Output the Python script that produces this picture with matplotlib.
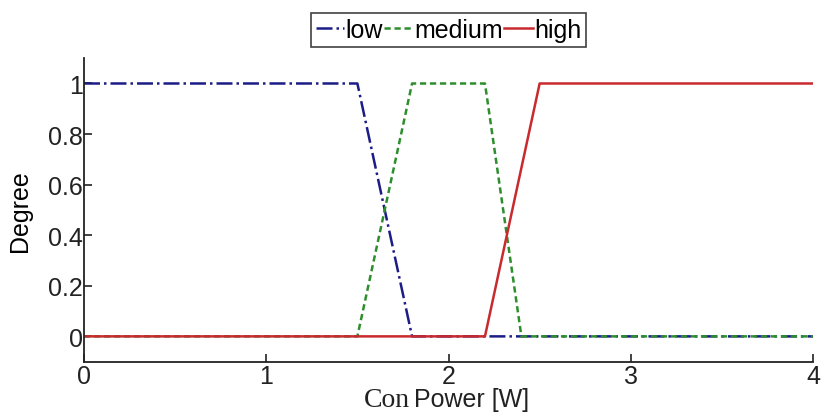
import matplotlib
matplotlib.use("Agg")
import matplotlib.pyplot as plt
import matplotlib.transforms as mtransforms

# Membership functions of the input "Con Power" (breakpoints in W)
x_low = [0, 1.5, 1.8, 4]
y_low = [1, 1, 0, 0]
x_medium = [0, 1.5, 1.8, 2.2, 2.4, 4]
y_medium = [0, 0, 1, 1, 0, 0]
x_high = [0, 2.2, 2.5, 4]
y_high = [0, 0, 1, 1]

x_ticks = [0, 1, 2, 3, 4]
y_ticks = [0, 0.2, 0.4, 0.6, 0.8, 1]
y_tick_labels = ["0", "0.2", "0.4", "0.6", "0.8", "1"]

plt.rcParams['font.family'] = ['Liberation Sans', 'DejaVu Sans']

fig = plt.figure(figsize=(8.21, 4.14), dpi=100)
ax = fig.add_axes([0.1023, 0.124, 0.8880, 0.733])

ax.plot(x_low, y_low, color='#1c1c86', linestyle='-.', lw=1.8, label='low')
ax.plot(x_medium, y_medium, color='#2e8e2e', linestyle=(0, (2.5, 1.5)), lw=1.8, label='medium')
ax.plot(x_high, y_high, color='#c82a2e', linestyle='-', lw=1.8, label='high')

ax.set_xlim(0, 4)
ax.set_ylim(-0.1, 1.1)
ax.set_xticks(x_ticks)
ax.set_xticklabels([str(t) for t in x_ticks])
ax.set_yticks(y_ticks)
ax.set_yticklabels(y_tick_labels)

for s in ['top', 'right']:
    ax.spines[s].set_visible(False)
for s in ['left', 'bottom']:
    ax.spines[s].set_linewidth(1.3)
    ax.spines[s].set_color('#222222')

ax.tick_params(direction='in', length=6, width=1.2, labelsize=18, colors='#222222')
ax.tick_params(axis='x', pad=2)
ax.tick_params(axis='y', pad=1)

ax.set_ylabel('Degree', fontsize=18)
ax.yaxis.set_label_coords(-0.071, 0.5)

# x-axis title: "Con" set in a serif face, "Power [W]" in sans
trans = mtransforms.blended_transform_factory(ax.transData, ax.transAxes)
ax.text(1.79, -0.145, 'Con', transform=trans, ha='right', va='baseline',
        fontsize=20, family=['Liberation Serif', 'DejaVu Serif'], color='#222222')
ax.text(1.81, -0.145, 'Power [W]', transform=trans, ha='left', va='baseline',
        fontsize=18, color='#222222')

leg = ax.legend(loc='lower center', bbox_to_anchor=(0.5, 1.0), ncol=3, frameon=True,
                fancybox=False, edgecolor='#111111', fontsize=18, handlelength=1.15,
                handletextpad=0.05, columnspacing=0.05, borderpad=0.2, borderaxespad=0.45,
                labelspacing=0.1)
leg.get_frame().set_linewidth(1.2)

fig.savefig('out.png', dpi=100, facecolor='white')
